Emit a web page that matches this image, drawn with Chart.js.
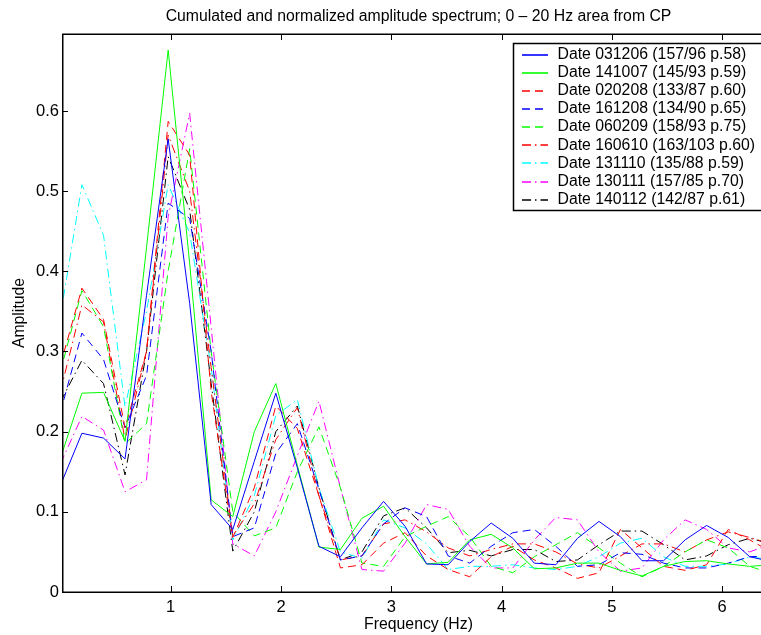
<!DOCTYPE html>
<html>
<head>
<meta charset="utf-8">
<script src="https://cdn.jsdelivr.net/npm/chart.js@4.4.1/dist/chart.umd.min.js"></script>
<style>
  html, body { margin: 0; padding: 0; background: #fff; overflow: hidden; }
  #wrap { width: 800px; height: 635px; }
  canvas { display: block; }
</style>
</head>
<body>
<div id="wrap"><canvas id="spectrum" width="800" height="635"></canvas></div>
<script>
// frequency bins (Hz)
const freqs = [0, 0.195, 0.391, 0.586, 0.781, 0.977, 1.172, 1.367, 1.563, 1.758, 1.953, 2.148,
  2.344, 2.539, 2.734, 2.930, 3.125, 3.320, 3.516, 3.711, 3.906, 4.102, 4.297, 4.492,
  4.688, 4.883, 5.078, 5.273, 5.469, 5.664, 5.859, 6.055, 6.250, 6.445];

const xTicks = [1, 2, 3, 4, 5, 6];
const yTicks = [0, 0.1, 0.2, 0.3, 0.4, 0.5, 0.6];

const labels = [
  "Date 031206 (157/96 p.58)",
  "Date 141007 (145/93 p.59)",
  "Date 020208 (133/87 p.60)",
  "Date 161208 (134/90 p.65)",
  "Date 060209 (158/93 p.75)",
  "Date 160610 (163/103 p.60)",
  "Date 131110 (135/88 p.59)",
  "Date 130111 (157/85 p.70)",
  "Date 140112 (142/87 p.61)",
];

const d031206 = [0.133, 0.198, 0.192, 0.166, 0.370, 0.565, 0.360, 0.109, 0.078, 0.163, 0.248, 0.155,
  0.057, 0.044, 0.080, 0.113, 0.082, 0.035, 0.034, 0.063, 0.086, 0.067, 0.036, 0.034,
  0.067, 0.088, 0.069, 0.039, 0.039, 0.065, 0.083, 0.068, 0.044, 0.038];
const d141007 = [0.167, 0.248, 0.249, 0.188, 0.430, 0.676, 0.410, 0.115, 0.094, 0.200, 0.260, 0.158,
  0.056, 0.053, 0.092, 0.107, 0.069, 0.035, 0.037, 0.065, 0.072, 0.055, 0.029, 0.030,
  0.036, 0.036, 0.027, 0.020, 0.032, 0.038, 0.039, 0.035, 0.032, 0.034];
const d020208 = [0.283, 0.379, 0.340, 0.205, 0.300, 0.587, 0.545, 0.250, 0.068, 0.130, 0.232, 0.204,
  0.120, 0.030, 0.034, 0.061, 0.074, 0.045, 0.028, 0.019, 0.044, 0.057, 0.040, 0.030,
  0.017, 0.024, 0.078, 0.055, 0.032, 0.027, 0.034, 0.078, 0.065, 0.050];
const d161208 = [0.224, 0.323, 0.290, 0.205, 0.270, 0.485, 0.466, 0.300, 0.069, 0.080, 0.173, 0.210,
  0.128, 0.040, 0.045, 0.085, 0.105, 0.094, 0.045, 0.036, 0.057, 0.074, 0.078, 0.057,
  0.032, 0.034, 0.049, 0.047, 0.036, 0.030, 0.030, 0.036, 0.044, 0.045];
const d060209 = [0.275, 0.376, 0.331, 0.185, 0.210, 0.400, 0.553, 0.300, 0.100, 0.070, 0.080, 0.150,
  0.206, 0.130, 0.036, 0.032, 0.069, 0.082, 0.094, 0.069, 0.032, 0.024, 0.044, 0.059,
  0.074, 0.055, 0.036, 0.019, 0.032, 0.050, 0.065, 0.055, 0.032, 0.023];
const d160610 = [0.250, 0.358, 0.337, 0.190, 0.300, 0.570, 0.500, 0.280, 0.070, 0.110, 0.190, 0.230,
  0.120, 0.040, 0.045, 0.085, 0.090, 0.075, 0.055, 0.045, 0.053, 0.060, 0.060, 0.050,
  0.035, 0.030, 0.045, 0.060, 0.060, 0.050, 0.065, 0.075, 0.068, 0.060];
const d131110 = [0.344, 0.508, 0.445, 0.231, 0.350, 0.508, 0.448, 0.280, 0.065, 0.120, 0.220, 0.240,
  0.130, 0.050, 0.042, 0.090, 0.080, 0.060, 0.028, 0.032, 0.032, 0.034, 0.030, 0.028,
  0.032, 0.044, 0.061, 0.067, 0.044, 0.032, 0.032, 0.035, 0.044, 0.040];
const d130111 = [0.160, 0.219, 0.202, 0.125, 0.140, 0.468, 0.597, 0.330, 0.060, 0.045, 0.100, 0.170,
  0.238, 0.130, 0.028, 0.026, 0.061, 0.109, 0.103, 0.057, 0.030, 0.030, 0.065, 0.093,
  0.090, 0.050, 0.026, 0.030, 0.065, 0.090, 0.078, 0.055, 0.050, 0.060];
const d140112 = [0.237, 0.289, 0.260, 0.146, 0.300, 0.543, 0.477, 0.260, 0.051, 0.100, 0.200, 0.232,
  0.130, 0.040, 0.050, 0.095, 0.105, 0.080, 0.049, 0.052, 0.045, 0.053, 0.053, 0.038,
  0.040, 0.059, 0.076, 0.076, 0.059, 0.040, 0.045, 0.059, 0.067, 0.060];

const values = [d031206, d141007, d020208, d161208, d060209, d160610, d131110, d130111, d140112];
const colors = ["#0000ff", "#00ff00", "#ff0000", "#0000ff", "#00ff00", "#ff0000", "#00ffff", "#ff00ff", "#000000"];

// matlab line styles: solid, dashed, dash-dot
const SOLID = [];
const DASHED = [8, 5];
const DASHDOT = [9, 4, 1.5, 4];
const styles = [SOLID, SOLID, DASHED, DASHED, DASHED, DASHDOT, DASHDOT, DASHDOT, DASHDOT];

const FONT = '"Liberation Sans", Arial, Helvetica, sans-serif';
const TEXT_SIZE = 15.8;
const TICK_SIZE = 16.5;

const datasets = values.map((v, i) => ({
  label: labels[i],
  data: v.map((y, k) => ({ x: freqs[k], y: y })),
  borderColor: colors[i],
  borderDash: styles[i],
  borderWidth: 1,
  pointRadius: 0,
  tension: 0,
  fill: false,
}));

// axes box, inward ticks, title, axis labels and legend (matlab look)
const matlabFrame = {
  id: "matlabFrame",
  afterDatasetsDraw(chart) {
    const { ctx, chartArea: a, scales } = chart;
    const x = scales.x, y = scales.y;
    ctx.save();
    ctx.strokeStyle = "#000";
    ctx.lineWidth = 1.5;
    ctx.setLineDash([]);
    ctx.strokeRect(a.left + 0.75, a.top + 0.25, a.right - a.left, a.bottom - a.top);

    ctx.lineWidth = 1;
    ctx.beginPath();
    xTicks.forEach((t) => {
      const px = Math.round(x.getPixelForValue(t)) + 0.5;
      ctx.moveTo(px, a.bottom);
      ctx.lineTo(px, a.bottom - 6);
      ctx.moveTo(px, a.top);
      ctx.lineTo(px, a.top + 6);
    });
    yTicks.forEach((t) => {
      const py = Math.round(y.getPixelForValue(t)) + 0.5;
      ctx.moveTo(a.left, py);
      ctx.lineTo(a.left + 6, py);
      ctx.moveTo(a.right, py);
      ctx.lineTo(a.right - 6, py);
    });
    ctx.stroke();

    // texts
    ctx.fillStyle = "#000";
    ctx.font = TEXT_SIZE + "px " + FONT;
    ctx.textAlign = "center";
    ctx.textBaseline = "middle";
    const cx = (a.left + a.right) / 2;
    ctx.fillText("Cumulated and normalized amplitude spectrum; 0 \u2013 20 Hz area from CP", cx, 17);
    ctx.fillText("Frequency (Hz)", cx, 625);
    ctx.save();
    ctx.translate(20, (a.top + a.bottom) / 2);
    ctx.rotate(-Math.PI / 2);
    ctx.fillText("Amplitude", 0, 0);
    ctx.restore();

    // legend box
    const lx = 513, ly = 43, lw = 251, lh = 167;
    ctx.fillStyle = "#fff";
    ctx.fillRect(lx, ly, lw, lh);
    ctx.lineWidth = 1.5;
    ctx.strokeStyle = "#000";
    ctx.strokeRect(lx + 0.5, ly + 0.5, lw, lh);
    ctx.textAlign = "left";
    labels.forEach((lab, i) => {
      const ry = ly + 11.5 + i * 18.15;
      // a bit wider than 1px so the colour survives like in the reference
      ctx.lineWidth = 1.6;
      ctx.strokeStyle = colors[i];
      ctx.setLineDash(styles[i]);
      ctx.beginPath();
      ctx.moveTo(522, Math.round(ry));
      ctx.lineTo(548, Math.round(ry));
      ctx.stroke();
      ctx.setLineDash([]);
      ctx.fillStyle = "#000";
      ctx.fillText(lab, 557.5, ry);
    });
    ctx.restore();
  },
};

new Chart(document.getElementById("spectrum"), {
  type: "line",
  data: { datasets: datasets },
  options: {
    responsive: false,
    animation: false,
    layout: { padding: { left: 0, right: 25, top: 34, bottom: 0 } },
    plugins: { legend: { display: false }, tooltip: { enabled: false } },
    scales: {
      x: {
        type: "linear",
        min: 0.0145,
        max: 6.479,
        grid: { display: false, drawTicks: false },
        border: { display: false },
        ticks: {
          stepSize: 1,
          includeBounds: false,
          padding: 6,
          maxRotation: 0,
          color: "#000",
          font: { family: FONT, size: TICK_SIZE },
          callback: (v) => String(v),
        },
        afterFit: (s) => { s.height = 43; },
      },
      y: {
        type: "linear",
        min: 0,
        max: 0.696,
        grid: { display: false, drawTicks: false },
        border: { display: false },
        ticks: {
          stepSize: 0.1,
          includeBounds: false,
          padding: 3,
          color: "#000",
          font: { family: FONT, size: TICK_SIZE },
          callback: (v) => (v === 0 ? "0" : v.toFixed(1)),
        },
        afterFit: (s) => { s.width = 62; },
      },
    },
  },
  plugins: [matlabFrame],
});
</script>
</body>
</html>
